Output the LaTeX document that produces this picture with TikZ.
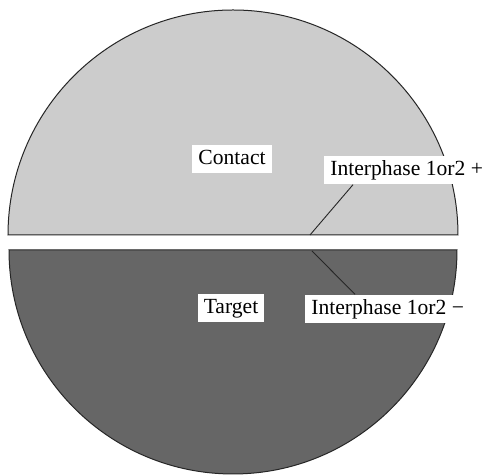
\documentclass[tikz,border=0pt]{standalone}
\usepackage{fontspec}
\setmainfont{Liberation Serif}
\definecolor{clair}{HTML}{CCCCCC}
\definecolor{fonce}{HTML}{666666}
\tikzset{
  part/.style={draw=black!85,line width=0.5pt},
  etiq/.style={fill=white,inner xsep=3pt,inner ysep=2.3pt,text height=7.5pt,text depth=2.2pt,font=\fontsize{10.8}{13}\selectfont},
  trait/.style={draw=black!85,line width=0.45pt}
}
\begin{document}
\begin{tikzpicture}[x=0.5pt,y=0.5pt]
\def\rayon{225}
\useasboundingbox (0,0) rectangle (489,475);

\fill[white] (0,0) rectangle (489,475);
\draw[part,fill=clair] (8,240) arc[start angle=180,end angle=0,radius=\rayon] -- cycle;
\draw[part,fill=fonce] (9,225) arc[start angle=180,end angle=360,radius=224] -- cycle;

\coordinate (pp) at (310,240);
\coordinate (pm) at (312,224);

\node[etiq] (contact) at (232,316) {Contact};
\node[etiq,anchor=west] (ipp) at (324,305) {Interphase 1or2 +};
\node[etiq] (target) at (231,167) {Target};
\node[etiq,anchor=west] (ipm) at (305,166) {Interphase 1or2 −};

\draw[trait] (pp) -- ([xshift=14.5pt]ipp.south west);
\draw[trait] (pm) -- ([xshift=25pt]ipm.north west);

\end{tikzpicture}
\end{document}
